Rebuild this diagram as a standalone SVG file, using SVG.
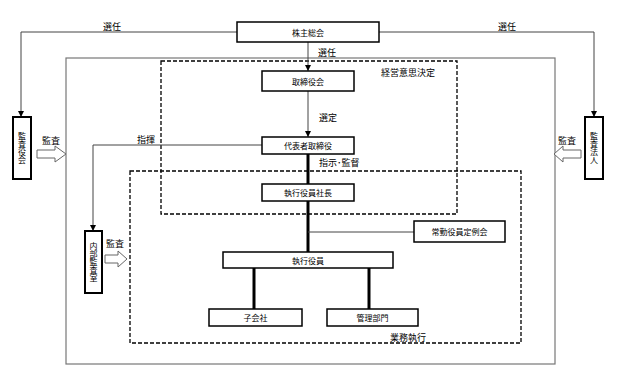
<svg xmlns="http://www.w3.org/2000/svg" width="639" height="384" viewBox="0 0 639 384">
<defs>
<marker id="arr" viewBox="0 0 10 10" refX="10" refY="5" markerWidth="6" markerHeight="6" orient="auto" markerUnits="userSpaceOnUse">
<path d="M0,0 L10,5 L0,10 z" fill="#000"/>
</marker>
<style>
text{font-family:"Noto Sans CJK JP","Noto Sans CJK SC",sans-serif;fill:#000}
.box{fill:#fff;stroke:#000;stroke-width:1.5}
.vbox{fill:#fff;stroke:#000;stroke-width:2}
.bt{font-size:8px;text-anchor:middle;dominant-baseline:central}
.vt{font-size:8px;text-anchor:middle;writing-mode:vertical-rl;dominant-baseline:central}
.lbl{font-size:9px}
.thin{fill:none;stroke:#444;stroke-width:1}
.thick{fill:none;stroke:#000;stroke-width:3}
.dash{fill:none;stroke:#000;stroke-width:1.3;stroke-dasharray:4,2}
.blk{fill:#fff;stroke:#666;stroke-width:1}
</style>
</defs>
<rect width="639" height="384" fill="#fff"/>
<g id="frames">
<rect x="66" y="58" width="489" height="306" fill="none" stroke="#777" stroke-width="1.2"/>
<rect id="keiei" x="161" y="61" width="296" height="153" class="dash"/>
<text x="408" y="76" class="lbl" text-anchor="middle">経営意思決定</text>
<rect id="gyomu" x="130" y="171" width="391" height="172" class="dash"/>
<text x="408" y="341" class="lbl" text-anchor="middle">業務執行</text>
</g>
<g id="connectors">
<path d="M237,32 H21 V117" class="thin" marker-end="url(#arr)"/>
<text x="112" y="30" class="lbl" text-anchor="middle">選任</text>
<path d="M379,32 H594 V117" class="thin" marker-end="url(#arr)"/>
<text x="507" y="30" class="lbl" text-anchor="middle">選任</text>
<path d="M308,42 V71" class="thin" marker-end="url(#arr)"/>
<text x="318" y="56" class="lbl">選任</text>
<path d="M308,91 V137" class="thin" marker-end="url(#arr)"/>
<text x="319" y="121" class="lbl">選定</text>
<path d="M308,154 V184" class="thick"/>
<text x="319" y="166" class="lbl">指示･監督</text>
<path d="M308,201 V252" class="thick"/>
<path d="M308,232 H414" class="thin"/>
<path d="M254,268 V309" class="thick"/>
<path d="M369,268 V309" class="thick"/>
<path d="M262,145 H93 V231" class="thin" marker-end="url(#arr)"/>
<text x="146" y="143" class="lbl" text-anchor="middle">指揮</text>
<path d="M37,150 H55 V146 L66,154 L55,162 V158 H37 Z" class="blk"/>
<text x="51" y="144" class="lbl" text-anchor="middle">監査</text>
<path d="M581,150 H563 V146 L554,154 L563,162 V158 H581 Z" class="blk"/>
<text x="567" y="144" class="lbl" text-anchor="middle">監査</text>
<path d="M105,255 H118 V251 L127,259 L118,267 V263 H105 Z" class="blk"/>
<text x="115" y="247" class="lbl" text-anchor="middle">監査</text>
</g>
<g id="kabunushi"><rect x="237" y="22" width="142" height="20" class="box"/><text x="308" y="32" class="bt">株主総会</text></g>
<g id="torishimariyakukai"><rect x="262" y="71" width="92" height="20" class="box"/><text x="308" y="81" class="bt">取締役会</text></g>
<g id="daihyo"><rect x="262" y="137" width="92" height="17" class="box"/><text x="308" y="145.5" class="bt">代表者取締役</text></g>
<g id="shacho"><rect x="262" y="184" width="92" height="17" class="box"/><text x="308" y="192.5" class="bt">執行役員社長</text></g>
<g id="joukin"><rect x="414" y="221" width="91" height="21" class="box"/><text x="459.5" y="231.5" class="bt">常勤役員定例会</text></g>
<g id="shikkou"><rect x="223" y="252" width="170" height="16" class="box"/><text x="308" y="260" class="bt">執行役員</text></g>
<g id="kogaisha"><rect x="209" y="309" width="93" height="17" class="box"/><text x="255.5" y="317.5" class="bt">子会社</text></g>
<g id="kanri"><rect x="327" y="309" width="91" height="17" class="box"/><text x="372.5" y="317.5" class="bt">管理部門</text></g>
<g id="kansayakukai"><rect x="13" y="117" width="18" height="62" class="vbox"/><text x="22" y="148" class="vt">監査役会</text></g>
<g id="kansahoujin"><rect x="585" y="117" width="18" height="62" class="vbox"/><text x="594" y="148" class="vt">監査法人</text></g>
<g id="naibu"><rect x="85" y="231" width="17" height="62" class="vbox"/><text x="93.5" y="262" class="vt">内部監査室</text></g>
</svg>
